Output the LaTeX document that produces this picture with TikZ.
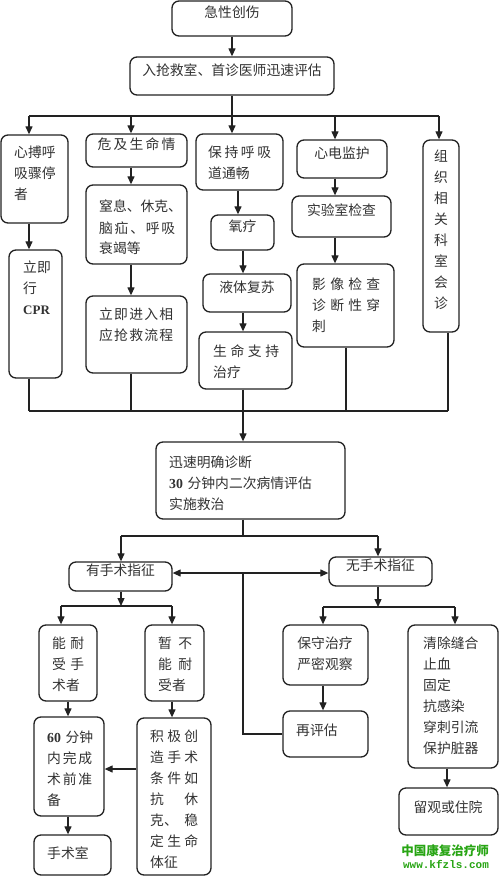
\documentclass[tikz,border=0pt]{standalone}
\usepackage{fontspec}
\setmainfont{Noto Sans CJK SC}
\newfontfamily\latf{Liberation Serif}
\newfontfamily\monof{Liberation Mono}
\usetikzlibrary{arrows.meta,fit}
\definecolor{ink}{RGB}{34,34,34}
\definecolor{txtc}{RGB}{50,50,50}
\definecolor{wmgreen}{RGB}{40,165,20}
\newcommand\jw[2]{\makebox[#1][l]{#2}}
\newcommand\bx[5]{\node[box, fit={(#2,#3) (#4,#5)}] (#1) {};}
\newcommand\bxt[6]{\node[box, fit={(#2,#3) (#4,#5)}, text=txtc, font=\fontsize{13.8}{21}\selectfont] (#1) {#6};}
\tikzset{
  box/.style={draw=ink, line width=1.3pt, rounded corners=7pt, inner sep=0pt},
  txt/.style={inner sep=0pt, text=txtc, font=\fontsize{13.8}{21}\selectfont, align=left, text width=110pt, anchor=base west},
  ctxt/.style={inner sep=0pt, text=txtc, font=\fontsize{13.8}{21}\selectfont, align=center, text width=80pt, anchor=base},
  ln/.style={draw=ink, line width=1.2pt},
  arr/.style={draw=ink, line width=1.2pt, -{Triangle[length=8pt,width=7pt]}},
  arrb/.style={draw=ink, line width=1.2pt, {Triangle[length=8pt,width=7pt]}-{Triangle[length=8pt,width=7pt]}},
}
\begin{document}
\begin{tikzpicture}[x=1pt,y=-1pt]
\fill[white] (0,0) rectangle (500,877);
\useasboundingbox (0,0) rectangle (500,877);

% ---- top
\bxt{n1}{172}{1}{292}{36}{急性创伤}
\bxt{n2}{130}{57}{334}{95}{入抢救室、首诊医师迅速评估}

% ---- row of five
\bx{b1}{1}{135}{68}{223}
\node[txt] (tb1) at (14,158) {心搏呼\\吸骤停\\者};
\bxt{b2}{86}{134}{187}{167}{\jw{78pt}{危\hfill 及\hfill 生\hfill 命\hfill 情}}
\bx{b3}{196}{134}{283}{190}
\node[txt] (tb3) at (208,158) {\jw{63pt}{保\hfill 持\hfill 呼\hfill 吸}\\道通畅};
\bxt{b4}{297}{140}{387}{178}{心电监护}
\bx{b5}{423}{140}{459}{332}
\node[ctxt] (tb5) at (441,162) {组\\织\\相\\关\\科\\室\\会\\诊};

% ---- column boxes
\bx{c1}{9}{250}{62}{378}
\node[txt] (tc1) at (23,272) {立即\\行\\{\latf\bfseries\fontsize{13}{21}\selectfont CPR}};
\bx{c2}{86}{185}{187}{264}
\node[txt] (tc2) at (99,212) {窒息、休克、\\\jw{76pt}{脑\hfill 疝\hfill 、\hfill 呼\hfill 吸}\\衰竭等};
\bx{c3}{86}{296}{187}{373}
\node[txt] (tc3) at (99,319) {\jw{74pt}{立\hfill 即\hfill 进\hfill 入\hfill 相}\\\jw{74pt}{应\hfill 抢\hfill 救\hfill 流\hfill 程}};
\bxt{c4}{211}{215}{274}{250}{氧疗}
\bxt{c5}{203}{274}{291}{312}{液体复苏}
\bx{c6}{199}{332}{292}{389}
\node[txt] (tc6) at (213,356) {\jw{66pt}{生\hfill 命\hfill 支\hfill 持}\\治疗};
\bxt{c7}{292}{196}{391}{237}{实验室检查}
\bx{c8}{297}{264}{394}{347}
\node[txt] (tc8) at (312,289) {\jw{68pt}{影\hfill 像\hfill 检\hfill 查}\\\jw{68pt}{诊\hfill 断\hfill 性\hfill 穿}\\刺};

% ---- diagnosis
\bx{d1}{156}{442}{345}{519}
\node[txt, text width=180pt] (td1) at (169,467) {迅速明确诊断\\{\latf\bfseries 30} 分钟内二次病情评估\\实施救治};

% ---- surgery indication
\bxt{e1}{69}{562}{172}{591}{有手术指征}
\bxt{e2}{329}{557}{432}{586}{无手术指征}

% ---- lower left
\bx{f1}{39}{625}{97}{701}
\node[txt, text width=50pt] (tf1) at (52,648) {\jw{32pt}{能\hfill 耐}\\\jw{32pt}{受\hfill 手}\\术者};
\bx{f2}{145}{625}{204}{701}
\node[txt, text width=50pt] (tf2) at (158,648) {\jw{34pt}{暂\hfill 不}\\\jw{34pt}{能\hfill 耐}\\受者};
\bx{f3}{34}{717}{104}{816}
\node[txt, text width=60pt] (tf3) at (47,742) {{\latf\bfseries 60} 分钟\\\jw{45pt}{内\hfill 完\hfill 成}\\\jw{45pt}{术\hfill 前\hfill 准}\\备};
\bx{f4}{137}{718}{211}{875}
\node[txt, text width=60pt] (tf4) at (150,741) {\jw{48pt}{积\hfill 极\hfill 创}\\\jw{48pt}{造\hfill 手\hfill 术}\\\jw{48pt}{条\hfill 件\hfill 如}\\\jw{48pt}{抗\hfill 休}\\\jw{48pt}{克、\hfill 稳}\\\jw{48pt}{定\hfill 生\hfill 命}\\体征};
\bx{f5}{34}{835}{111}{875}
\node[txt, text width=60pt] (tf5) at (47,858) {手术室};

% ---- lower right
\bx{g1}{283}{625}{368}{685}
\node[ctxt] (tg1) at (325,648) {保守治疗\\严密观察};
\bx{g2}{283}{711}{368}{757}
\node[txt, text width=60pt] (tg2) at (296,735) {再评估};
\bx{g3}{408}{625}{498}{768}
\node[txt, text width=80pt] (tg3) at (423,648) {清除缝合\\止血\\固定\\抗感染\\穿刺引流\\保护脏器};
\bx{g4}{399}{788}{498}{835}
\node[ctxt] (tg4) at (448,812) {留观或住院};

% ---- watermark
\node[inner sep=0pt, text=wmgreen, font=\bfseries\fontsize{12.5}{13}\selectfont] (wm1) at (445,851) {中国康复治疗师};
\node[inner sep=0pt, text=wmgreen, font=\monof\bfseries\fontsize{11}{12}\selectfont] (wm2) at (446,864) {www.kfzls.com};

% ---- coordinates
\coordinate (tbL) at (29,116);
\coordinate (tb2) at (131,116);
\coordinate (tb3) at (232,116);
\coordinate (tb4) at (335,116);
\coordinate (tbR) at (439,116);
\coordinate (x3a) at (238,116);
\coordinate (bbL) at (29,411);
\coordinate (bb2) at (131,411);
\coordinate (bbM) at (243,411);
\coordinate (bb4) at (346,411);
\coordinate (bbR) at (448,411);
\coordinate (sb) at (243,536);
\coordinate (sbL) at (121,536);
\coordinate (sbR) at (378,536);
\coordinate (m) at (243,573);
\coordinate (lb) at (121,606);
\coordinate (lbL) at (61,606);
\coordinate (lbR) at (172,606);
\coordinate (x68) at (68,769);
\coordinate (hm) at (120,769);
\coordinate (rb) at (378,607);
\coordinate (rbL) at (323,607);
\coordinate (rbR) at (455,607);
\coordinate (x447) at (447,778);

% ---- top connectors
\draw[arr] (n1.south) -- (n1.south |- n2.north);
\draw[ln] (n2.south) -- (tb3);
\draw[ln] (tbL) -- (tbR);
\draw[arr] (tbL) -- (tbL |- b1.north);
\draw[arr] (tb2) -- (tb2 |- b2.north);
\draw[arr] (tb3) -- (tb3 |- b3.north);
\draw[arr] (tb4) -- (tb4 |- b4.north);
\draw[arr] (tbR) -- (tbR |- b5.north);

% ---- columns
\draw[arr] (tbL |- b1.south) -- (tbL |- c1.north);
\draw[arr] (tb2 |- b2.south) -- (tb2 |- c2.north);
\draw[arr] (tb2 |- c2.south) -- (tb2 |- c3.north);
\draw[arr] (x3a |- b3.south) -- (x3a |- c4.north);
\draw[arr] (bbM |- c4.south) -- (bbM |- c5.north);
\draw[arr] (bbM |- c5.south) -- (bbM |- c6.north);
\draw[arr] (tb4 |- b4.south) -- (tb4 |- c7.north);
\draw[arr] (tb4 |- c7.south) -- (tb4 |- c8.north);

% ---- bottom bus
\draw[ln] (tbL |- c1.south) -- (bbL);
\draw[ln] (tb2 |- c3.south) -- (bb2);
\draw[ln] (bbM |- c6.south) -- (bbM);
\draw[ln] (bb4 |- c8.south) -- (bb4);
\draw[ln] (bbR |- b5.south) -- (bbR);
\draw[ln] (bbL) -- (bbR);
\draw[arr] (bbM) -- (bbM |- d1.north);

% ---- split
\draw[ln] (sb |- d1.south) -- (sb);
\draw[ln] (sbL) -- (sbR);
\draw[arr] (sbL) -- (sbL |- e1.north);
\draw[arr] (sbR) -- (sbR |- e2.north);
\draw[arrb] (e1.east |- m) -- (e2.west |- m);
\draw[ln] (g2.west) -| (m);

% ---- lower left
\draw[arr] (lb |- e1.south) -- (lb);
\draw[ln] (lbL) -- (lbR);
\draw[arr] (lbL) -- (lbL |- f1.north);
\draw[arr] (lbR) -- (lbR |- f2.north);
\draw[arr] (x68 |- f1.south) -- (x68 |- f3.north);
\draw[arr] (lbR |- f2.south) -- (lbR |- f4.north);
\draw[arr] (f4.west |- hm) -- (f3.east |- hm);
\draw[arr] (x68 |- f3.south) -- (x68 |- f5.north);

% ---- lower right
\draw[arr] (rb |- e2.south) -- (rb);
\draw[ln] (rbL) -- (rbR);
\draw[arr] (rbL) -- (rbL |- g1.north);
\draw[arr] (rbR) -- (rbR |- g3.north);
\draw[arr] (rbL |- g1.south) -- (rbL |- g2.north);
\draw[arr] (x447 |- g3.south) -- (x447 |- g4.north);
\end{tikzpicture}
\end{document}
